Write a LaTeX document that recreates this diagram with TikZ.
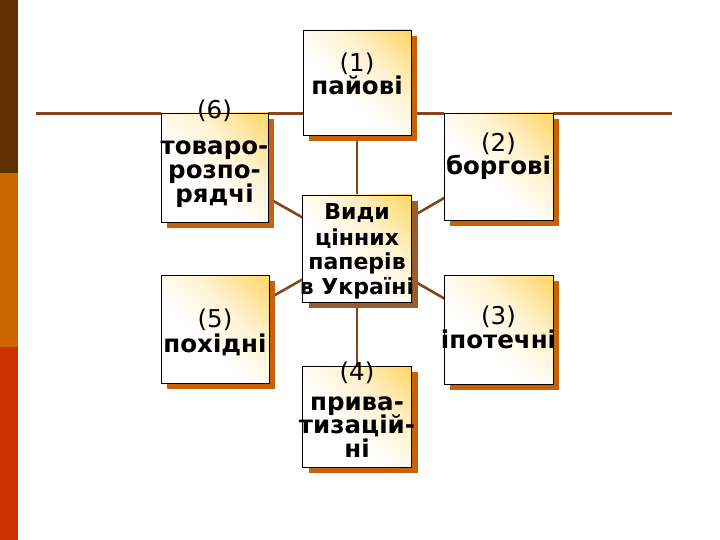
\documentclass[tikz,border=0pt]{standalone}
\usepackage{fontspec}
\setmainfont{DejaVu Sans}
\usetikzlibrary{shadows,backgrounds}
\definecolor{barA}{HTML}{5F3000}
\definecolor{barB}{HTML}{CC6600}
\definecolor{barC}{HTML}{CC3300}
\definecolor{linkc}{HTML}{87461A}
\definecolor{shadowA}{HTML}{C8620A}
\definecolor{shadowB}{HTML}{9A5C2C}
\definecolor{goldA}{HTML}{FFC425}
\definecolor{creamA}{HTML}{FFF2D0}
\pgfdeclarehorizontalshading{boxshade}{100bp}{color(0bp)=(white); color(42bp)=(white); color(62bp)=(creamA); color(80bp)=(goldA!60!white); color(100bp)=(goldA)}
\begin{document}
\begin{tikzpicture}[x=1pt,y=-1pt,
  card/.style={draw=black, line width=0.9pt, rectangle, inner sep=0pt,
    shading=boxshade, shading angle=45,
    drop shadow={shadow xshift=6pt, shadow yshift=-6pt, fill=shadowA, opacity=1}},
  ccard/.style={card, drop shadow={shadow xshift=6pt, shadow yshift=-6pt, fill=shadowB, opacity=1}},
  link/.style={draw=linkc, line width=2.6pt},
  num/.style={anchor=base, inner sep=0pt, font=\fontsize{24.5}{25}\selectfont},
  nm/.style={anchor=base, inner sep=0pt, font=\fontsize{24.5}{25}\selectfont\bfseries},
  cn/.style={anchor=base, inner sep=0pt, font=\fontsize{22}{25}\selectfont\bfseries}]
\useasboundingbox (0,0) rectangle (720,540);
% boxes
\node[card, minimum width=107pt, minimum height=109pt] (b6) at (214.5,167.5) {};
\node[card, minimum width=108pt, minimum height=105pt] (b1) at (357,82.5) {};
\node[ccard, minimum width=109pt, minimum height=107pt] (bc) at (357,248.5) {};
\node[card, minimum width=109pt, minimum height=107pt] (b2) at (498.5,166.5) {};
\node[card, minimum width=109pt, minimum height=109pt] (b3) at (498.5,329.5) {};
\node[card, minimum width=108pt, minimum height=108pt] (b5) at (215,329) {};
\node[card, minimum width=109pt, minimum height=101pt] (b4) at (357,416.5) {};
% connectors
\coordinate (hl1) at (36,113.5);
\coordinate (hl2) at (672,113.5);
\begin{scope}[on background layer]
\fill[white] (0,0) rectangle (720,540);
\fill[barA] (0,0) rectangle (17.5,173.5);
\fill[barB] (0,173.5) rectangle (17.5,347);
\fill[barC] (0,347) rectangle (17.5,540);
\draw[link] (hl1) -- (hl2);
\draw[link] (b1.center) -- (bc.center);
\draw[link] (bc.center) -- (b4.center);
\draw[link] (b6.center) -- (bc.center);
\draw[link] (b5.center) -- (bc.center);
\draw[link] (b2.center) -- (bc.center);
\draw[link] (b3.center) -- (bc.center);
\end{scope}
% texts
\node[num] (t6a) at (214.5,119) {(6)};
\node[nm] (t6b) at (214.5,155) {товаро-};
\node[nm] (t6c) at (214.5,179) {розпо-};
\node[nm] (t6d) at (214.5,203) {рядчі};
\node[num] (t1a) at (357,72) {(1)};
\node[nm] (t1b) at (357,95) {пайові};
\node[num] (t2a) at (498.5,152) {(2)};
\node[nm] (t2b) at (498.5,175) {боргові};
\node[num] (t3a) at (498.5,324) {(3)};
\node[nm] (t3b) at (498.5,348) {іпотечні};
\node[num] (t5a) at (215,327) {(5)};
\node[nm] (t5b) at (215,352) {похідні};
\node[num] (t4a) at (357,380) {(4)};
\node[nm] (t4b) at (357,410) {прива-};
\node[nm] (t4c) at (357,433) {тизацій-};
\node[nm] (t4d) at (357,457) {ні};
\node[cn] (tca) at (357,220) {Види};
\node[cn] (tcb) at (357,245) {цінних};
\node[cn] (tcc) at (357,269.5) {паперів};
\node[cn] (tcd) at (357,294) {в Україні};
\end{tikzpicture}
\end{document}
